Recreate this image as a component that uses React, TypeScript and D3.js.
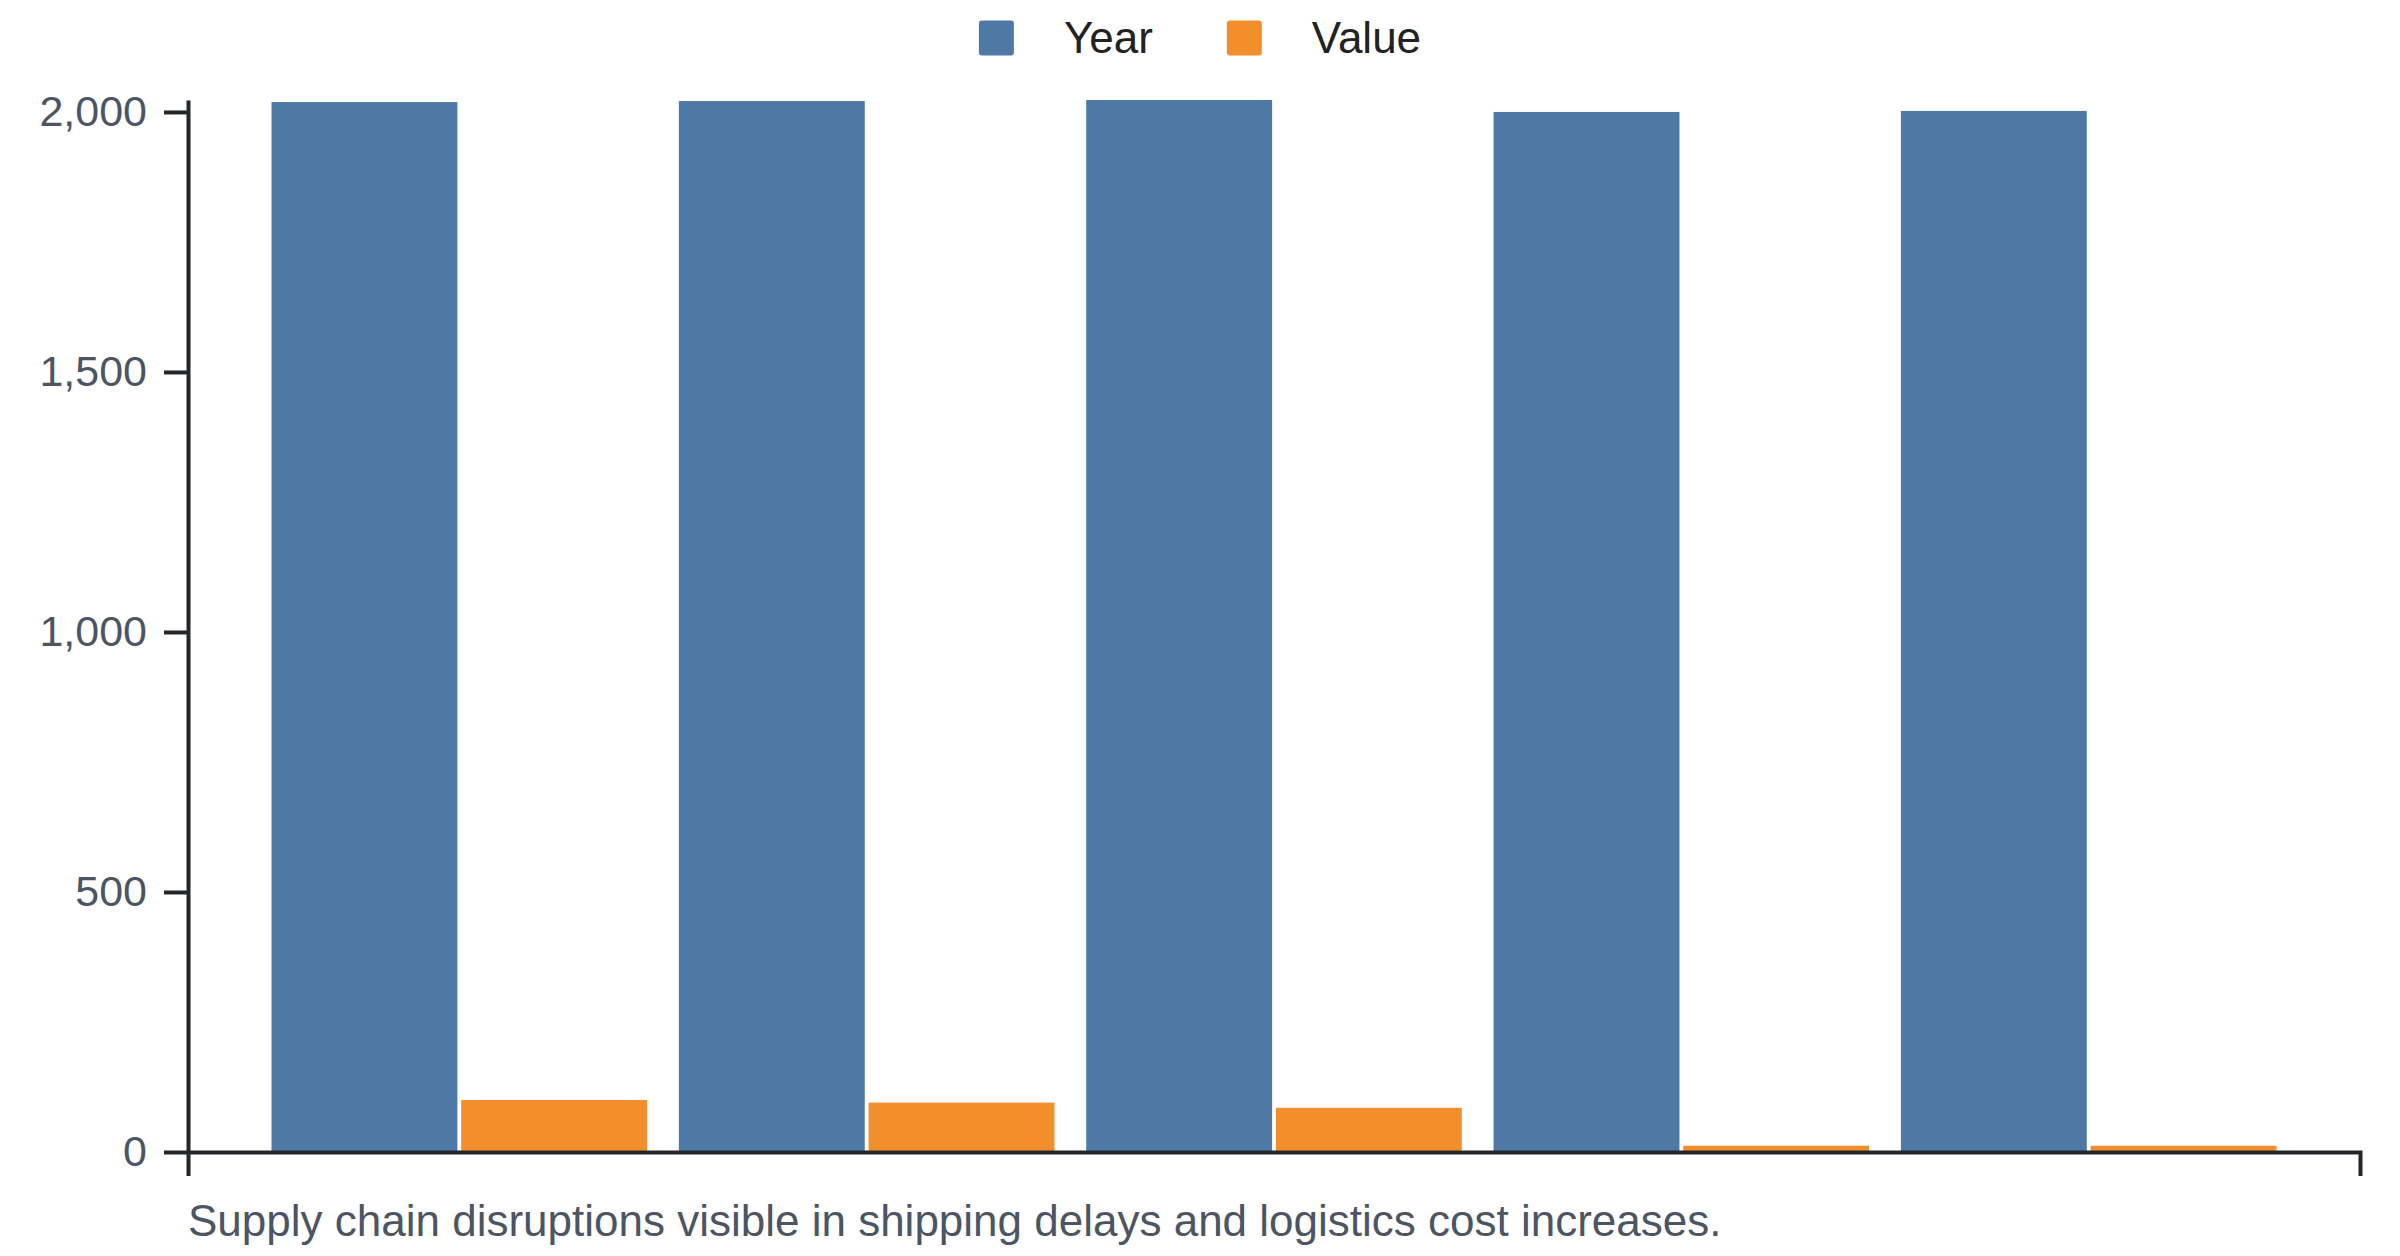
import React, { useRef, useEffect } from "react";
import * as d3 from "d3";

// values
const categories = ["1", "2", "3", "4", "5"];
const yearValues = [2019, 2021, 2023, 2000, 2002];
const valueValues = [100, 95, 85, 12, 12];
const seriesNames = ["Year", "Value"];
const seriesColors = ["#4e79a7", "#f28e2c"];
const yTickValues = [0, 500, 1000, 1500, 2000];
const caption =
  "Supply chain disruptions visible in shipping delays and logistics cost increases.";

const width = 2400;
const height = 1256;
const margin = { top: 100, right: 40, bottom: 104, left: 188 };
const font = "'Liberation Sans', Arial, Helvetica, sans-serif";

const App = () => {
  const d3Container = useRef(null);

  useEffect(() => {
    const svg = d3.select(d3Container.current);
    svg.selectAll("*").remove();

    const rows = categories.map((c, i) => ({
      category: c,
      values: [yearValues[i], valueValues[i]],
    }));

    const x0 = d3
      .scaleBand()
      .domain(categories)
      .range([margin.left, width - margin.right])
      .paddingInner(0.078)
      .paddingOuter(0.205);

    const x1 = d3
      .scaleBand()
      .domain(seriesNames)
      .range([0, x0.bandwidth()])
      .paddingInner(0.02);

    const y = d3
      .scaleLinear()
      .domain([0, d3.max(yearValues) as number])
      .range([height - margin.bottom, margin.top]);

    // bars
    const groups = svg
      .append("g")
      .selectAll("g")
      .data(rows)
      .enter()
      .append("g")
      .attr("transform", (d) => `translate(${x0(d.category)},0)`);

    groups
      .selectAll("rect")
      .data((d) => d.values.map((v, i) => ({ key: seriesNames[i], v, i })))
      .enter()
      .append("rect")
      .attr("x", (d) => x1(d.key) as number)
      .attr("y", (d) => y(d.v))
      .attr("width", x1.bandwidth())
      .attr("height", (d) => y(0) - y(d.v))
      .attr("fill", (d) => seriesColors[d.i]);

    // x axis: no labels, only the outer ticks
    const xAxis = svg
      .append("g")
      .attr("transform", `translate(0,${height - margin.bottom})`)
      .call(d3.axisBottom(x0).tickValues([]).tickSizeOuter(24));

    // y axis
    const yAxis = svg
      .append("g")
      .attr("transform", `translate(${margin.left},0)`)
      .call(
        d3
          .axisLeft(y)
          .tickValues(yTickValues)
          .tickFormat(d3.format(","))
          .tickSize(24)
          .tickSizeOuter(0)
          .tickPadding(17)
      );

    [xAxis, yAxis].forEach((g) => {
      g.selectAll("path, line")
        .attr("stroke", "#23272b")
        .attr("stroke-width", 4);
      g.selectAll("text")
        .attr("fill", "#4b5563")
        .style("font-family", font)
        .style("font-size", "43px");
    });

    // legend, centred at the top
    const legend = svg.append("g");
    let cx = 0;
    seriesNames.forEach((name, i) => {
      const item = legend.append("g").attr("transform", `translate(${cx},0)`);
      item
        .append("rect")
        .attr("x", 0)
        .attr("y", 20.5)
        .attr("width", 35)
        .attr("height", 35)
        .attr("rx", 3)
        .attr("fill", seriesColors[i]);
      const t = item
        .append("text")
        .attr("x", 85)
        .attr("y", 53)
        .attr("fill", "#222")
        .style("font-family", font)
        .style("font-size", "44px")
        .text(name);
      const tw = (t.node() as SVGTextElement).getComputedTextLength();
      cx += 85 + tw + 74;
    });
    const legendWidth = cx - 74;
    legend.attr("transform", `translate(${width / 2 - legendWidth / 2},0)`);

    // caption under the chart
    svg
      .append("text")
      .attr("x", margin.left)
      .attr("y", 1236)
      .attr("fill", "#4b5563")
      .style("font-family", font)
      .style("font-size", "44px")
      .text(caption);
  }, []);

  return (
    <svg
      ref={d3Container}
      width={width}
      height={height}
      style={{ position: "absolute", left: 0, top: 0, background: "#fff" }}
    ></svg>
  );
};

export default App;
